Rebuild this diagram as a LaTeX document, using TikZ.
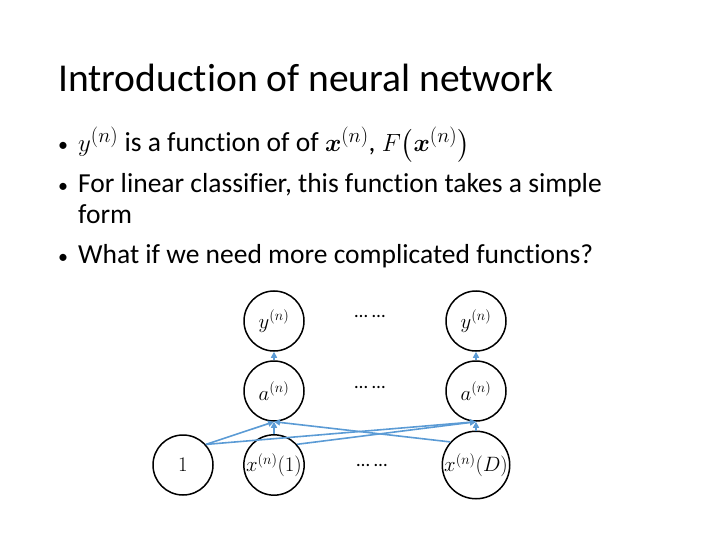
\documentclass[tikz,border=0pt]{standalone}
\usepackage{amsmath,amssymb,bm}
\usepackage{fontspec}
\setmainfont{Carlito}[Ligatures=NoCommon]
\usetikzlibrary{arrows.meta}
\definecolor{lineblue}{RGB}{91,155,213}
\tikzset{
  neuron/.style={draw=black, line width=1.5pt, circle, minimum size=60pt, inner sep=0pt, font=\fontsize{20}{24}\selectfont},
  conn/.style={draw=lineblue, line width=1.6pt, -{Triangle[length=6pt,width=6pt]}},
  dotsl/.style={font=\fontsize{19}{22}\selectfont},
  bullet/.style={anchor=base west, font=\fontsize{27.5}{32}\selectfont, inner sep=0pt},
  bdot/.style={anchor=base west, font=\fontsize{20}{24}\selectfont, inner sep=0pt}
}
\begin{document}
\begin{tikzpicture}[x=1pt,y=-1pt]
\useasboundingbox (0,0) rectangle (720,540);
% title
\node[anchor=base west, inner sep=0pt, font=\fontsize{39.5}{44}\selectfont] (title) at (58,92) {Introduction of neural network};
% bullets
\node[bdot] (b1d) at (58,152) {•};
\node[bullet] (b1) at (78,152) {$y^{(n)}$ is a function of of $\bm{x}^{(n)}$, $F\big(\bm{x}^{(n)}\big)$};
\node[bdot] (b2d) at (58,193) {•};
\node[bullet] (b2) at (78,193) {For linear classifier, this function takes a simple};
\node[bullet] (b2b) at (78,223) {form};
\node[bdot] (b3d) at (58,263) {•};
\node[bullet] (b3) at (78,263) {What if we need more complicated functions?};
% neurons
\node[neuron] (y1) at (274,321) {$y^{(n)}$};
\node[neuron] (yD) at (476,321) {$y^{(n)}$};
\node[neuron] (a1) at (274,391) {$a^{(n)}$};
\node[neuron] (aD) at (476,391) {$a^{(n)}$};
\node[neuron] (one) at (183,465) {$1$};
\node[neuron] (x1) at (274,465) {$x^{(n)}(1)$};
\node[neuron] (xD) at (476,465) {$x^{(n)}(D)$};
\node[dotsl] (d1) at (370,316) {\dots\ \dots};
\node[dotsl] (d2) at (370,387) {\dots\ \dots};
\node[dotsl] (d3) at (372,465) {\dots\ \dots};
% connectors
\draw[conn] (a1) -- (y1);
\draw[conn] (aD) -- (yD);
\draw[conn] (one.42) -- (a1.south);
\draw[conn] (one.42) -- (aD.south);
\draw[conn] (x1) -- (a1);
\draw[conn] (x1.42) -- (aD.south);
\draw[conn] (xD.138) -- (a1.south);
\draw[conn] (xD) -- (aD);
\end{tikzpicture}
\end{document}
